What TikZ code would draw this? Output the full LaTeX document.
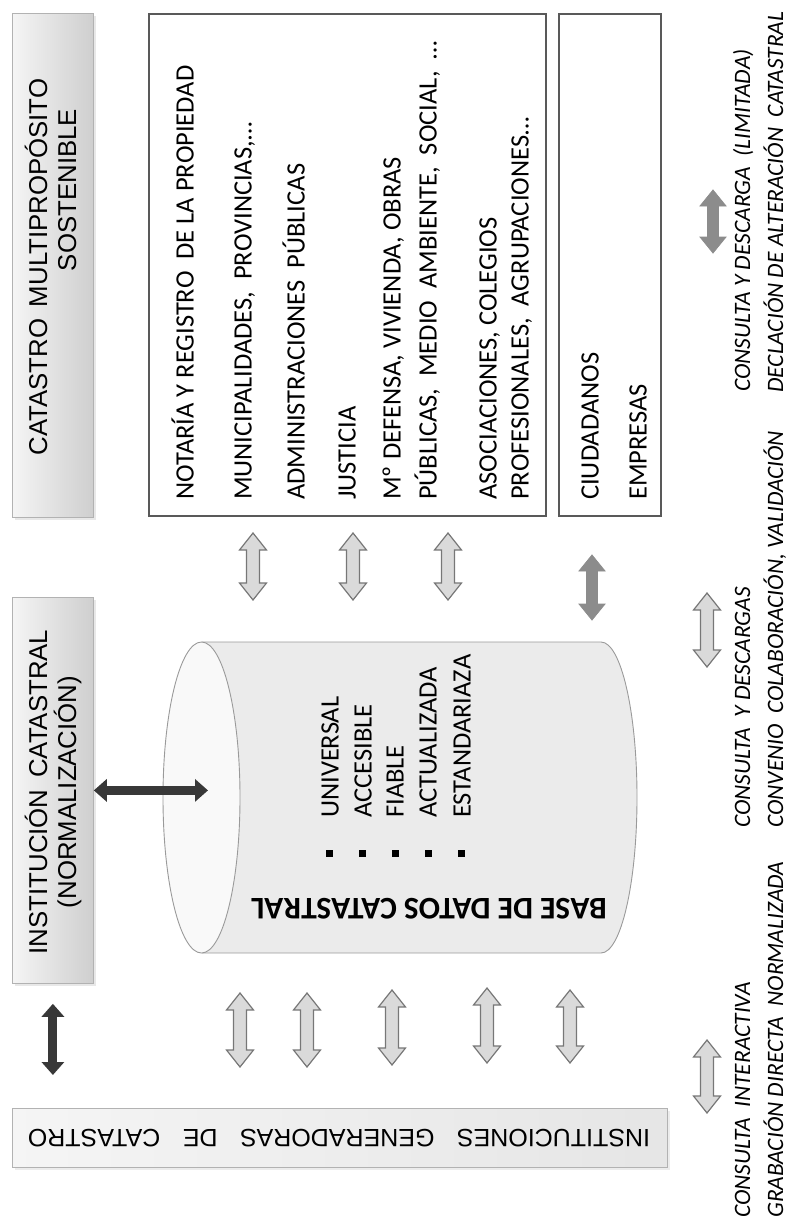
\documentclass[tikz,border=0pt]{standalone}
\usepackage{fontspec}
\setmainfont{Carlito}
\newfontfamily\arialf{Liberation Sans}
\usetikzlibrary{shadows,arrows.meta}
\newcommand\dsp{\hspace{0.45em}}
\newcommand\blockarrow[7]{%
  \draw[#1] (#2,#3) -- ({#2+#5},{#3+#7}) -- ({#2+#6},{#3+#7}) -- ({#2+#6},{#4-#7}) -- ({#2+#5},{#4-#7}) -- (#2,#4) -- ({#2-#5},{#4-#7}) -- ({#2-#6},{#4-#7}) -- ({#2-#6},{#3+#7}) -- ({#2-#5},{#3+#7}) -- cycle;}
\definecolor{boxline}{HTML}{595959}
\definecolor{arrline}{HTML}{777777}
\definecolor{arrfill}{HTML}{DADADA}
\definecolor{darkarr}{HTML}{383838}
\definecolor{grayarr}{HTML}{8C8C8C}
\definecolor{cylfill}{HTML}{EBEBEB}
\definecolor{cylline}{HTML}{9A9A9A}
\tikzset{
  graybox/.style={draw=gray!60, line width=0.8pt, left color=gray!8, right color=gray!38,
    drop shadow={opacity=0.18, shadow xshift=2.5pt, shadow yshift=-2.5pt}},
  genbox/.style={draw=gray!60, line width=0.8pt, left color=gray!8, right color=gray!20,
    drop shadow={opacity=0.15, shadow xshift=2.5pt, shadow yshift=-2.5pt}},
  whitebox/.style={draw=boxline, line width=1.8pt, fill=white},
  rt/.style={rotate=90, anchor=base west, inner sep=0pt, font=\fontsize{26.5}{30}\selectfont},
  it/.style={rotate=90, anchor=base west, inner sep=0pt, font=\fontsize{23.5}{28}\selectfont\itshape},
  ar/.style={rotate=90, anchor=base, inner sep=0pt, font=\arialf\fontsize{25.8}{30}\selectfont},
  hollow/.style={draw=arrline, line width=1.2pt, fill=arrfill, line join=miter},
  grayfill/.style={draw=grayarr, line width=0.8pt, fill=grayarr},
  darkarrow/.style={draw=darkarr, line width=9pt,
    {Triangle[width=22pt,length=13pt]}-{Triangle[width=22pt,length=13pt]}},
  dot/.style={fill=black}
}
\begin{document}
\begin{tikzpicture}[x=1pt,y=-1pt]
\useasboundingbox (0,0) rectangle (789,1223);

% boxes
\node[graybox, minimum width=81pt, minimum height=504pt, anchor=north west, inner sep=0pt] (cms) at (12,13) {};
\node[graybox, minimum width=81pt, minimum height=386pt, anchor=north west, inner sep=0pt] (inst) at (12,597) {};
\node[whitebox, minimum width=397pt, minimum height=502pt, anchor=north west, inner sep=0pt] (users) at (148,13) {};
\node[whitebox, minimum width=102pt, minimum height=502pt, anchor=north west, inner sep=0pt] (citiz) at (558,13) {};
\node[genbox, minimum width=655pt, minimum height=59pt, anchor=north west, inner sep=0pt] (gen) at (12,1108) {};

% box texts (gray boxes)
\node[ar] (cms1) at (47,267) {CATASTRO\dsp MULTIPROPÓSITO};
\node[ar] (cms2) at (76,190) {SOSTENIBLE};
\node[ar] (inst1) at (47,792) {INSTITUCIÓN\dsp CATASTRAL};
\node[ar] (inst2) at (76,792) {(NORMALIZACIÓN)};
\node[rotate=180, inner sep=0pt, font=\arialf\fontsize{25}{28}\selectfont] (gen1) at (339,1138)
  {INSTITUCIONES\hspace{0.9em}GENERADORAS\hspace{0.9em}DE\hspace{0.9em}CATASTRO};

% users box
\node[rt] (u1) at (193.5,500) {NOTARÍA Y REGISTRO\dsp DE LA PROPIEDAD};
\node[rt] (u2) at (251.5,500) {MUNICIPALIDADES,\dsp PROVINCIAS,…};
\node[rt] (u3) at (304.5,500) {ADMINISTRACIONES\dsp PÚBLICAS};
\node[rt] (u4) at (355.5,500) {JUSTICIA};
\node[rt] (u5) at (400.5,500) {Mº DEFENSA, VIVIENDA, OBRAS};
\node[rt] (u6) at (436.5,500) {PÚBLICAS,\dsp MEDIO\dsp AMBIENTE,\dsp SOCIAL,\dsp …};
\node[rt] (u7) at (496.5,500) {ASOCIACIONES, COLEGIOS};
\node[rt] (u8) at (528.5,500) {PROFESIONALES,\dsp AGRUPACIONES…};
\node[rt] (c1) at (598.5,500) {CIUDADANOS};
\node[rt] (c2) at (646.5,500) {EMPRESAS};

% cylinder
\fill[cylfill] (201.5,642) -- (601,642) .. controls (620.9,642) and (637,711.7) .. (637,797.5)
  .. controls (637,883.3) and (620.9,953) .. (601,953) -- (201.5,953) -- cycle;
\draw[cylline, line width=0.9pt] (201.5,642) -- (601,642) .. controls (620.9,642) and (637,711.7) .. (637,797.5)
  .. controls (637,883.3) and (620.9,953) .. (601,953) -- (201.5,953);
\draw[cylline, line width=0.9pt, fill=gray!5] (201.5,797.5) ellipse [x radius=38.5pt, y radius=155.5pt];
\coordinate (dbc) at (208,792);

\node[rotate=180, anchor=base, inner sep=0pt, font=\fontsize{31.5}{34}\selectfont\bfseries] (dbt) at (429,898) {BASE DE DATOS CATASTRAL};
\node[rt] (q1) at (338.5,818) {UNIVERSAL};
\node[rt] (q2) at (371.5,818) {ACCESIBLE};
\node[rt] (q3) at (403.5,818) {FIABLE};
\node[rt] (q4) at (436.5,818) {ACTUALIZADA};
\node[rt] (q5) at (470.5,818) {ESTANDARIAZA};
\foreach \xx in {329,362,395,428,461} \fill[dot] (\xx-3.5,849.5) rectangle ++(7,7);

% right column texts
\node[it] (r1) at (750,392) {CONSULTA Y DESCARGA\dsp (LIMITADA)};
\node[it] (r2) at (783,393) {DECLACIÓN DE ALTERACIÓN\dsp CATASTRAL};
\node[it] (r3) at (750,828) {CONSULTA\dsp Y DESCARGAS};
\node[it] (r4) at (783,828) {CONVENIO\dsp COLABORACIÓN, VALIDACIÓN};
\node[it] (r5) at (750,1218) {CONSULTA\dsp INTERACTIVA};
\node[it] (r6) at (783,1218) {GRABACIÓN DIRECTA\dsp NORMALIZADA};

% block arrows
\blockarrow{hollow}{253}{533}{600}{13.5}{6.5}{17}
\blockarrow{hollow}{353}{533}{600}{13.5}{6.5}{17}
\blockarrow{hollow}{448}{533}{600}{13.5}{6.5}{17}
\blockarrow{grayfill}{592}{555}{620}{13}{5.5}{16}
\blockarrow{grayfill}{713}{190}{253}{13}{5.5}{16}
\blockarrow{hollow}{707}{593}{667}{13.5}{6.5}{17}
\blockarrow{hollow}{707}{1040}{1113}{13.5}{6.5}{17}
\blockarrow{hollow}{240}{993}{1067}{13.5}{6.5}{17}
\blockarrow{hollow}{307}{993}{1067}{13.5}{6.5}{17}
\blockarrow{hollow}{392}{990}{1065}{13.5}{6.5}{17}
\blockarrow{hollow}{487}{988}{1063}{13.5}{6.5}{17}
\blockarrow{hollow}{570}{990}{1063}{13.5}{6.5}{17}

% dark connectors
\draw[darkarrow] (inst.east) -- (inst.east -| dbc);
\draw[darkarrow, shorten <=20pt, shorten >=33pt] (inst.south) -- (inst.south |- gen.north);
\end{tikzpicture}
\end{document}
